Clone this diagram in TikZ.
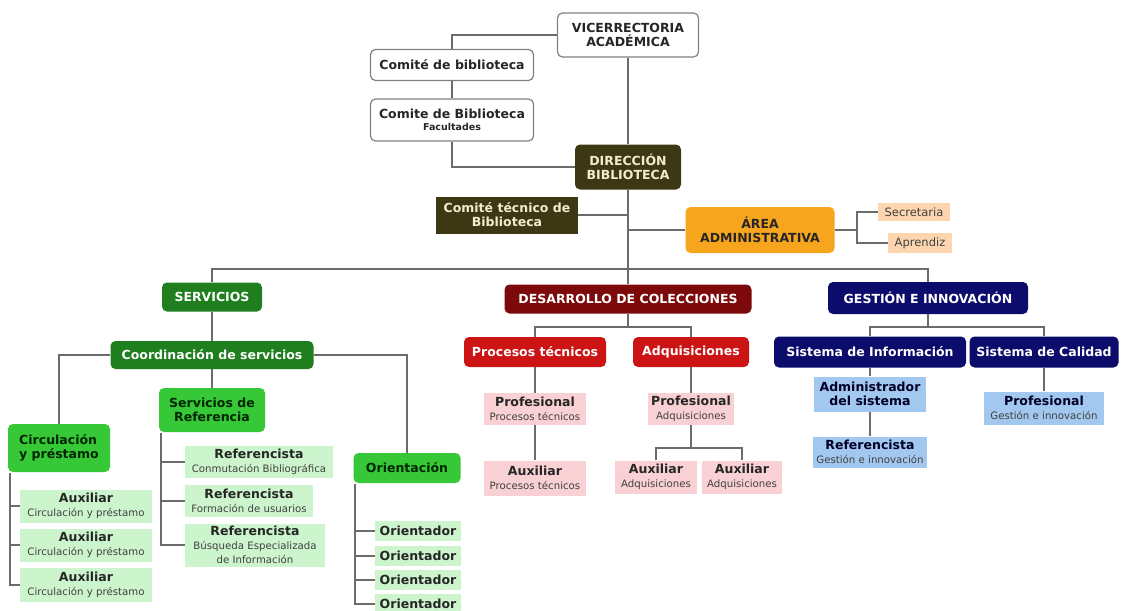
\documentclass[tikz,border=0pt]{standalone}
\usepackage{fontspec}
\setmainfont{DejaVu Sans}

\definecolor{cOliva}{HTML}{3C3814}
\definecolor{cCrema}{HTML}{F3ECCC}
\definecolor{cNaranja}{HTML}{F7A51C}
\definecolor{cMelocoton}{HTML}{FDD6B0}
\definecolor{cVerdeOsc}{HTML}{1F7F1F}
\definecolor{cVerde}{HTML}{36C836}
\definecolor{cVerdePal}{HTML}{CDF5CD}
\definecolor{cRojoOsc}{HTML}{7D0A0A}
\definecolor{cRojo}{HTML}{CC1414}
\definecolor{cRosa}{HTML}{F9D0D3}
\definecolor{cAzul}{HTML}{0C0C6C}
\definecolor{cCeleste}{HTML}{A3C8F0}
\definecolor{cLinea}{HTML}{6B6B6B}

\newcommand{\detalle}[1]{{\mdseries\fontsize{10.2}{11.5}\selectfont\color{black!75}#1}}

\tikzset{
  caja/.style={rounded corners=5pt, align=center, inner sep=1pt,
    font=\bfseries\fontsize{12.5}{14}\selectfont},
  blanca/.style={caja, draw=black!50, line width=1.2pt, fill=white, text=black!85},
  oliva/.style={caja, fill=cOliva, text=cCrema},
  naranja/.style={caja, fill=cNaranja, text=black!85},
  melocoton/.style={caja, rounded corners=0pt, fill=cMelocoton, text=black!75,
    font=\mdseries\fontsize{11.5}{12.5}\selectfont},
  verdeosc/.style={caja, fill=cVerdeOsc, text=white},
  verde/.style={caja, fill=cVerde, text=black!85!green},
  verdepal/.style={caja, rounded corners=0pt, fill=cVerdePal, text=black!85},
  rojoosc/.style={caja, fill=cRojoOsc, text=white},
  rojo/.style={caja, fill=cRojo, text=white},
  rosa/.style={caja, rounded corners=0pt, fill=cRosa, text=black!85},
  azul/.style={caja, fill=cAzul, text=white},
  celeste/.style={caja, rounded corners=0pt, fill=cCeleste, text=black!85!blue},
  linea/.style={draw=cLinea, line width=1.3pt}
}

\begin{document}
\begin{tikzpicture}[x=1pt,y=-1pt]
  \useasboundingbox[fill=white] (0,0) rectangle (1121,610);

  % direccion
  \node[blanca, minimum width=141, minimum height=44] (vice) at (628,35) {VICERRECTORIA\\ACADÉMICA};
  \node[blanca, minimum width=163, minimum height=31] (comite) at (452,65) {Comité de biblioteca};
  \node[blanca, minimum width=163, minimum height=42] (comfac) at (452,120) {Comite de Biblioteca\\[-2pt]{\fontsize{9.5}{10.5}\selectfont Facultades}};
  \node[oliva, minimum width=106, minimum height=45] (dir) at (628,167) {DIRECCIÓN\\BIBLIOTECA};
  \node[oliva, rounded corners=0pt, minimum width=142, minimum height=37] (tec) at (507,215) {Comité técnico de\\Biblioteca};
  \node[naranja, minimum width=149, minimum height=46] (area) at (760,230) {ÁREA\\ADMINISTRATIVA};
  \node[melocoton, minimum width=72, minimum height=18] (secr) at (914,212) {Secretaria};
  \node[melocoton, minimum width=64, minimum height=20] (apre) at (920,243) {Aprendiz};

  % areas
  \node[verdeosc, minimum width=100, minimum height=29] (serv) at (212,297) {SERVICIOS};
  \node[rojoosc, minimum width=247, minimum height=29] (desa) at (628,299) {DESARROLLO DE COLECCIONES};
  \node[azul, minimum width=200, minimum height=32] (gest) at (928,298) {GESTIÓN E INNOVACIÓN};

  % servicios
  \node[verdeosc, minimum width=203, minimum height=28] (coord) at (212,355) {Coordinación de servicios};
  \node[verde, minimum width=106, minimum height=44] (sref) at (212,410) {Servicios de\\Referencia};
  \node[verde, align=left, minimum width=102, minimum height=48] (circ) at (59,448) {Circulación\\y préstamo};
  \node[verde, minimum width=107, minimum height=30] (ori) at (407,468) {Orientación};
  \node[verdepal, minimum width=132, minimum height=33] (aux1) at (86,506) {Auxiliar\\\detalle{Circulación y préstamo}};
  \node[verdepal, minimum width=132, minimum height=33] (aux2) at (86,545) {Auxiliar\\\detalle{Circulación y préstamo}};
  \node[verdepal, minimum width=132, minimum height=34] (aux3) at (86,585) {Auxiliar\\\detalle{Circulación y préstamo}};
  \node[verdepal, minimum width=148, minimum height=32] (ref1) at (259,462) {Referencista\\\detalle{Conmutación Bibliográfica}};
  \node[verdepal, minimum width=128, minimum height=32] (ref2) at (249,501) {Referencista\\\detalle{Formación de usuarios}};
  \node[verdepal, minimum width=140, minimum height=43] (ref3) at (255,545) {Referencista\\\detalle{Búsqueda Especializada}\\\detalle{de Información}};
  \node[verdepal, minimum width=86, minimum height=20] (or1) at (418,531) {Orientador};
  \node[verdepal, minimum width=86, minimum height=20] (or2) at (418,556) {Orientador};
  \node[verdepal, minimum width=86, minimum height=20] (or3) at (418,580) {Orientador};
  \node[verdepal, minimum width=86, minimum height=20] (or4) at (418,604) {Orientador};

  % colecciones
  \node[rojo, minimum width=142, minimum height=30] (proc) at (535,352) {Procesos técnicos};
  \node[rojo, minimum width=116, minimum height=30] (adq) at (691,352) {Adquisiciones};
  \node[rosa, minimum width=102, minimum height=32] (prof1) at (535,409) {Profesional\\\detalle{Procesos técnicos}};
  \node[rosa, minimum width=102, minimum height=35] (auxp) at (535,478) {Auxiliar\\\detalle{Procesos técnicos}};
  \node[rosa, minimum width=86, minimum height=32] (prof2) at (691,409) {Profesional\\\detalle{Adquisiciones}};
  \node[rosa, minimum width=82, minimum height=33] (auxa1) at (656,477) {Auxiliar\\\detalle{Adquisiciones}};
  \node[rosa, minimum width=80, minimum height=33] (auxa2) at (742,477) {Auxiliar\\\detalle{Adquisiciones}};

  % gestion
  \node[azul, minimum width=192, minimum height=31] (sinf) at (870,352) {Sistema de Información};
  \node[azul, minimum width=149, minimum height=31] (scal) at (1044,352) {Sistema de Calidad};
  \node[celeste, minimum width=112, minimum height=35] (adm) at (870,394) {Administrador\\del sistema};
  \node[celeste, minimum width=114, minimum height=31] (refg) at (870,452) {Referencista\\\detalle{Gestión e innovación}};
  \node[celeste, minimum width=120, minimum height=33] (profg) at (1044,408) {Profesional\\\detalle{Gestión e innovación}};

  \coordinate (barra) at (628,269);
  \coordinate (llave) at (857,230);
  \coordinate (ccirc) at (10,473);
  \coordinate (cref) at (161,433);
  \coordinate (cori) at (355,484);
  \coordinate (desab) at (628,327);
  \coordinate (adqb) at (691,448);
  \coordinate (gestb) at (928,327);

  \draw[linea] (vice.west) -| (comite.north);
  \draw[linea] (comite) -- (comfac);
  \draw[linea] (comfac.south) |- (dir.west);
  \draw[linea] (vice) -- (dir);
  \draw[linea] (dir) -- (barra);
  \draw[linea] (tec.east) -- (tec.east -| dir.south);
  \draw[linea] (area.west) -- (area.west -| dir.south);
  \draw[linea] (area.east) -- (llave);
  \draw[linea] (secr.west) -| (llave) |- (apre.west);
  \draw[linea] (serv.north) |- (barra) -| (gest.north);
  \draw[linea] (barra) -- (desa.north);

  \draw[linea] (serv) -- (coord);
  \draw[linea] (coord.west) -| (circ.north);
  \draw[linea] (coord.east) -| (ori.north);
  \draw[linea] (coord) -- (sref);
  \draw[linea] (ccirc) |- (aux3.west);
  \foreach \n in {aux1,aux2}
    \draw[linea] (\n.west) -- (\n.west -| ccirc);
  \draw[linea] (cref) |- (ref3.west);
  \foreach \n in {ref1,ref2}
    \draw[linea] (\n.west) -- (\n.west -| cref);
  \draw[linea] (cori) |- (or4.west);
  \foreach \n in {or1,or2,or3}
    \draw[linea] (\n.west) -- (\n.west -| cori);

  \draw[linea] (desa) -- (desab);
  \draw[linea] (proc.north) |- (desab) -| (adq.north);
  \draw[linea] (proc) -- (prof1);
  \draw[linea] (prof1) -- (auxp);
  \draw[linea] (adq) -- (prof2);
  \draw[linea] (prof2) -- (adqb);
  \draw[linea] (auxa1.north) |- (adqb) -| (auxa2.north);

  \draw[linea] (gest) -- (gestb);
  \draw[linea] (sinf.north) |- (gestb) -| (scal.north);
  \draw[linea] (sinf) -- (adm);
  \draw[linea] (adm) -- (refg);
  \draw[linea] (scal) -- (profg);
\end{tikzpicture}
\end{document}
